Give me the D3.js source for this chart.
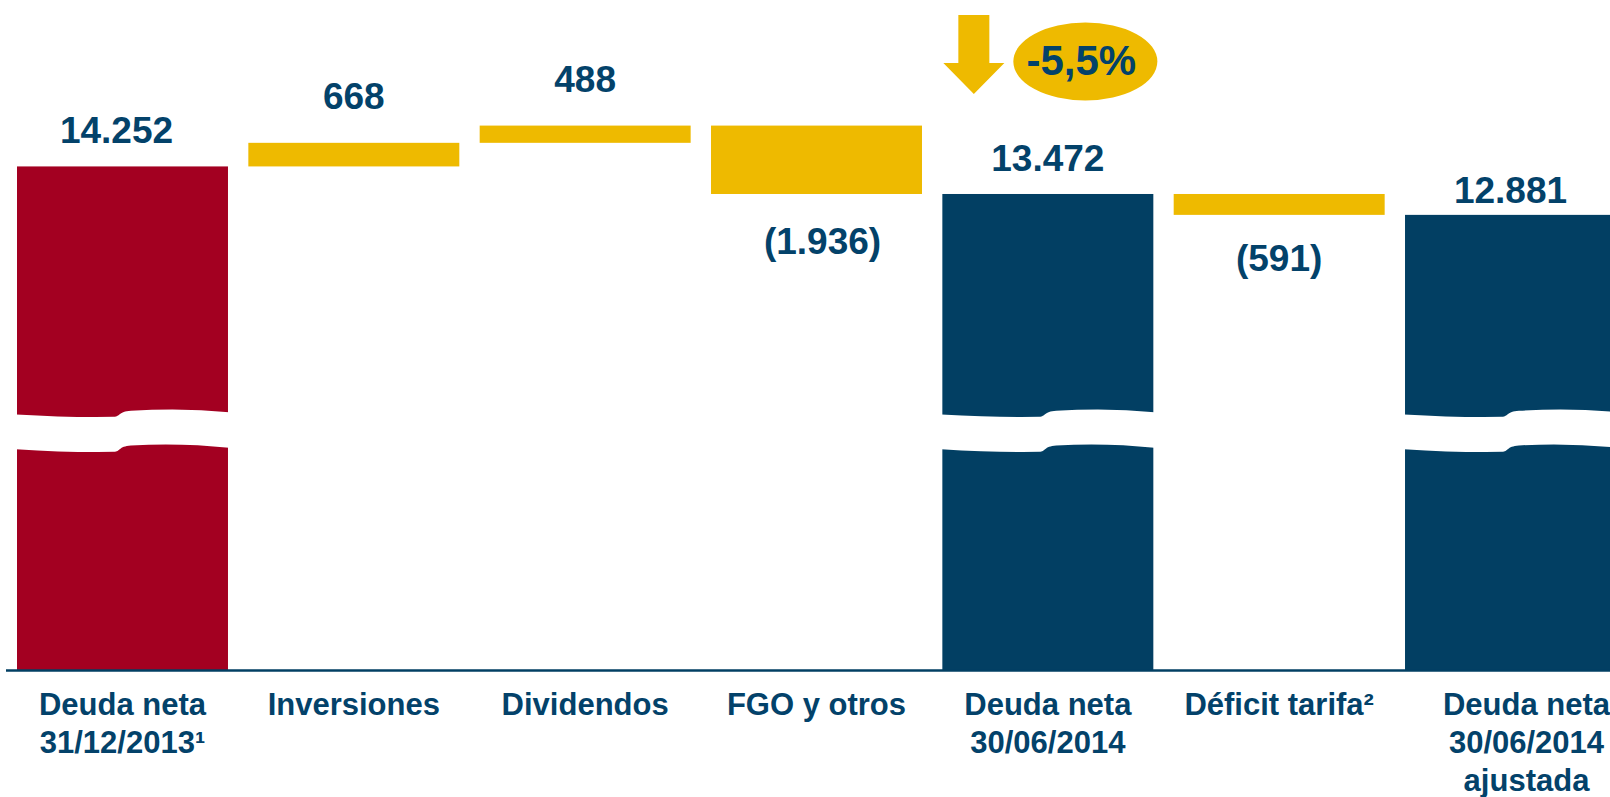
<!DOCTYPE html>
<html lang="es">

<head>
  <meta charset="UTF-8">
  <title>Deuda neta</title>
  <style>
    body { margin: 0; background: #ffffff; }
    svg { display: block; }
  </style>
</head>

<body>
  <svg id="svg" width="1610" height="797"></svg>

  <script src="https://cdnjs.cloudflare.com/ajax/libs/d3/7.8.5/d3.min.js"></script>
  <script>
    // categories (each entry = lines of the axis label)
    const categories = [
      ['Deuda neta', '31/12/2013\u00B9'],
      ['Inversiones'],
      ['Dividendos'],
      ['FGO y otros'],
      ['Deuda neta', '30/06/2014'],
      ['D\u00E9ficit tarifa\u00B2'],
      ['Deuda neta', '30/06/2014', 'ajustada']
    ]
    // millions of euros; 'total' bars start at zero, 'delta' bars float
    const values = [14252, 668, 488, -1936, 13472, -591, 12881]
    const kinds = ['start', 'delta', 'delta', 'delta', 'total', 'delta', 'total']

    const NAVY = '#023f63'
    const RED = '#a30021'
    const GOLD = '#eeba00'
    const TEXT = '#03426a'
    const FONT = '"Liberation Sans", Arial, sans-serif'

    const fmt = d3.formatLocale({ decimal: ',', thousands: '.', grouping: [3], currency: ['', '\u20AC'], minus: '-' })
    const fmtInt = fmt.format(',d')
    const fmtPct = fmt.format('.1f')

    // waterfall: running level
    let level = 0
    const bars = values.map((v, i) => {
      let y0, y1
      if (kinds[i] === 'delta') {
        y0 = level
        y1 = level + v
        level = y1
      } else {
        y0 = 0
        y1 = v
        level = v
      }
      return { i, value: v, kind: kinds[i], low: Math.min(y0, y1), high: Math.max(y0, y1) }
    })

    const keys = categories.map((c, i) => i)

    const xScale = d3.scaleBand()
      .domain(keys)
      .range([17, 1616])
      .paddingInner(0.088)
      .paddingOuter(0)

    const yScale = d3.scaleLinear()
      .domain([0, 15000])
      .range([670, 140])

    const svg = d3.select('#svg')

    const color = d => d.kind === 'start' ? RED : (d.kind === 'total' ? NAVY : GOLD)

    svg.append('g')
      .selectAll('rect')
      .data(bars)
      .enter()
      .append('rect')
      .attr('x', d => xScale(d.i))
      .attr('width', xScale.bandwidth())
      .attr('y', d => yScale(d.high))
      .attr('height', d => yScale(d.low) - yScale(d.high))
      .attr('fill', color)

    // decorative axis break on the full bars
    const breakValue = 6760
    function breakPath(x0, w, yc) {
      const p = d3.path()
      p.moveTo(x0 - 1, yc - 16.7)
      p.quadraticCurveTo(x0 + 0.25 * w, yc - 13.5, x0 + 0.46 * w, yc - 14.3)
      p.bezierCurveTo(x0 + 0.49 * w, yc - 14.6, x0 + 0.48 * w, yc - 19.5, x0 + 0.54 * w, yc - 20.3)
      p.quadraticCurveTo(x0 + 0.78 * w, yc - 23.5, x0 + w + 1, yc - 19)
      p.lineTo(x0 + w + 1, yc + 16.7)
      p.quadraticCurveTo(x0 + 0.78 * w, yc + 11.5, x0 + 0.54 * w, yc + 14.3)
      p.bezierCurveTo(x0 + 0.48 * w, yc + 15.2, x0 + 0.49 * w, yc + 20.4, x0 + 0.46 * w, yc + 20.7)
      p.quadraticCurveTo(x0 + 0.25 * w, yc + 21.5, x0 - 1, yc + 18)
      p.closePath()
      return p.toString()
    }

    svg.append('g')
      .selectAll('path')
      .data(bars.filter(d => d.kind !== 'delta'))
      .enter()
      .append('path')
      .attr('d', d => breakPath(xScale(d.i), xScale.bandwidth(), yScale(breakValue)))
      .attr('fill', '#ffffff')

    // baseline
    svg.append('line')
      .attr('x1', 6)
      .attr('x2', 1610)
      .attr('y1', yScale(0) + 0.5)
      .attr('y2', yScale(0) + 0.5)
      .attr('stroke', NAVY)
      .attr('stroke-width', 2.4)

    // value labels
    const nudgeY = { 5: -4, 6: 11 }
    const nudgeX = { 0: -6, 3: 6 }
    svg.append('g')
      .selectAll('text')
      .data(bars)
      .enter()
      .append('text')
      .text(d => d.value < 0 ? '(' + fmtInt(-d.value) + ')' : fmtInt(d.value))
      .attr('x', d => xScale(d.i) + xScale.bandwidth() / 2 + (nudgeX[d.i] || 0))
      .attr('y', d => {
        let y
        if (d.kind !== 'delta') y = yScale(d.high) - 23
        else if (d.value > 0) y = yScale(d.high) - 34
        else y = yScale(d.low) + 60
        return y + (nudgeY[d.i] || 0)
      })
      .attr('text-anchor', 'middle')
      .style('font-family', FONT)
      .style('font-weight', 'bold')
      .style('font-size', '37px')
      .attr('fill', TEXT)

    // category labels
    const labelX = i => xScale(i) + xScale.bandwidth() / 2 + (i === 6 ? 16 : 0)
    const catLabels = svg.append('g')
      .selectAll('text')
      .data(categories)
      .enter()
      .append('text')
      .attr('text-anchor', 'middle')
      .attr('x', (d, i) => labelX(i))
      .attr('y', 715)
      .style('font-family', FONT)
      .style('font-weight', 'bold')
      .style('font-size', '31px')
      .attr('fill', TEXT)

    catLabels.selectAll('tspan')
      .data((d, i) => d.map(line => ({ line, i })))
      .enter()
      .append('tspan')
      .attr('x', d => labelX(d.i))
      .attr('dy', (d, j) => j === 0 ? 0 : 38)
      .text(d => d.line)

    // change annotation: arrow + ellipse with the percentage
    const first = values[0]
    const latest = values[4]
    const pct = (latest - first) / first * 100
    const ax = xScale(4) + 31.5

    svg.append('path')
      .attr('d', d3.line()([
        [ax - 15.5, 15], [ax + 15.5, 15], [ax + 15.5, 63], [ax + 30.5, 63],
        [ax, 94], [ax - 30.5, 63], [ax - 15.5, 63]
      ]) + 'Z')
      .attr('fill', GOLD)

    const ex = xScale(4) + 143
    svg.append('ellipse')
      .attr('cx', ex)
      .attr('cy', 61.5)
      .attr('rx', 72)
      .attr('ry', 39)
      .attr('fill', GOLD)

    svg.append('text')
      .text(fmtPct(pct) + '%')
      .attr('x', ex - 4)
      .attr('y', 75)
      .attr('text-anchor', 'middle')
      .style('font-family', FONT)
      .style('font-weight', 'bold')
      .style('font-size', '42px')
      .attr('fill', TEXT)
  </script>

</body>

</html>
